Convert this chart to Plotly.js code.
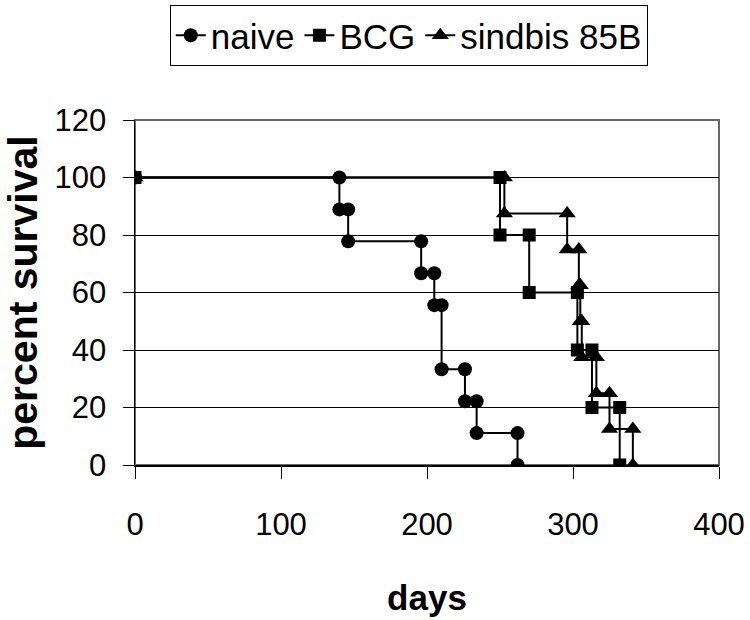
<!DOCTYPE html>
<html>
<head>
<meta charset="utf-8">
<script src="https://cdn.plot.ly/plotly-3.0.1.min.js"></script>
<style>html,body{margin:0;padding:0;background:#fff;}#chart{width:750px;height:620px;}</style>
</head>
<body>
<div id="chart"></div>
<script>
// Step-form survival data (each event duplicated to draw the step)
const naiveDays = [0,140,140,146,146,196,196,205,205,210,210,226,226,234,234,262,262];
const naiveSurv = [100,100,88.9,88.9,77.8,77.8,66.7,66.7,55.6,55.6,33.3,33.3,22.2,22.2,11.1,11.1,0];
const bcgDays = [0,250,250,270,270,303,303,313,313,332,332];
const bcgSurv = [100,100,80,80,60,60,40,40,20,20,0];
const sindbisDays = [0,253,253,296,296,304,304,305,305,306,306,316,316,325,325,341,341];
const sindbisSurv = [100,100,87.5,87.5,75,75,62.5,62.5,50,50,37.5,37.5,25,25,12.5,12.5,0];
const seriesNames = ['naive','BCG','sindbis 85B'];
const xTicks = [0,100,200,300,400];
const yTicks = [0,20,40,60,80,100,120];

const fam = '"Liberation Sans", Arial, sans-serif';
const lineStyle = {color:'#000', width:2};

const traces = [
  {x:naiveDays, y:naiveSurv, name:seriesNames[0], type:'scatter', mode:'lines+markers',
   line:lineStyle, marker:{symbol:'circle', size:14, color:'#000'}, legendrank:1},
  {x:sindbisDays, y:sindbisSurv, name:seriesNames[2], type:'scatter', mode:'lines+markers',
   line:lineStyle, marker:{symbol:'triangle-up', size:15, color:'#000'}, legendrank:3},
  {x:bcgDays, y:bcgSurv, name:seriesNames[1], type:'scatter', mode:'lines+markers',
   line:lineStyle, marker:{symbol:'square', size:13, color:'#000'}, legendrank:2}
];

const layout = {
  width:750, height:620,
  margin:{l:135, r:31, t:120, b:155},
  paper_bgcolor:'#fff', plot_bgcolor:'#fff',
  showlegend:true,
  font:{family:fam, color:'#000'},
  legend:{orientation:'h', xref:'container', yref:'container',
    x:0.545, xanchor:'center', y:0.992, yanchor:'top',
    bordercolor:'#000', borderwidth:1, bgcolor:'#fff',
    font:{family:fam, size:35, color:'#000'}, tracegroupgap:0},
  xaxis:{range:[0,400], tickvals:xTicks, ticktext:xTicks.map(String),
    ticks:'outside', ticklen:12, tickwidth:1, tickcolor:'#000',
    showline:true, linecolor:'#000', linewidth:2, showgrid:false, zeroline:false,
    ticklabelstandoff:19,
    tickfont:{family:fam, size:31, color:'#000'},
    title:{text:'days', font:{family:fam, size:35, color:'#000', weight:'bold'}, standoff:44}},
  yaxis:{range:[0,120], tickvals:yTicks, ticktext:yTicks.map(String),
    ticks:'outside', ticklen:11, tickwidth:1, tickcolor:'#000',
    showline:true, linecolor:'#000', linewidth:1.5, showgrid:true, gridcolor:'#000', gridwidth:1,
    zeroline:false, ticklabelstandoff:10,
    tickfont:{family:fam, size:31, color:'#000'},
    title:{text:'percent survival', font:{family:fam, size:41, color:'#000', weight:'bold'}, standoff:22}},
  shapes:[{type:'rect', xref:'paper', yref:'paper', x0:0, x1:1, y0:0, y1:1,
    line:{color:'#666', width:2}, layer:'below'}]
};

Plotly.newPlot('chart', traces, layout, {displayModeBar:false, staticPlot:true});
</script>
</body>
</html>
